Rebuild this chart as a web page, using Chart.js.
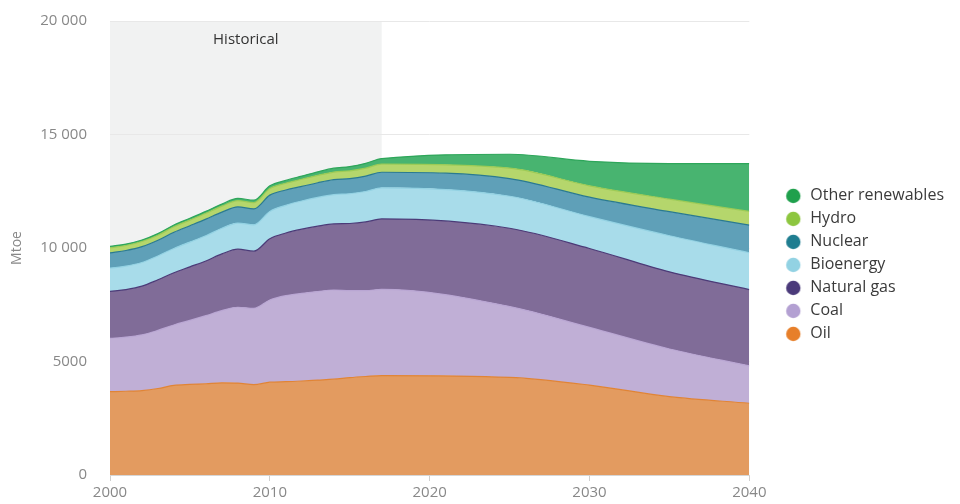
<!DOCTYPE html>
<html><head><meta charset="utf-8">
<script src="https://cdn.jsdelivr.net/npm/chart.js@4.4.1/dist/chart.umd.min.js"></script>
<style>html,body{margin:0;padding:0;background:#fff;}#wrap{width:960px;height:504px;position:relative;}</style>
</head><body><div id="wrap"><canvas id="c"></canvas></div>
<script>
const years = [2000,2001,2002,2003,2004,2005,2006,2007,2008,2009,2010,2011,2012,2013,2014,2015,2016,2017,2025,2030,2035,2040];
const oil     = [3670,3690,3720,3810,3950,3990,4020,4060,4050,3980,4090,4110,4140,4180,4220,4290,4340,4380,4300,3960,3450,3160];
const coal    = [2350,2380,2450,2560,2660,2820,3000,3180,3340,3360,3620,3790,3860,3900,3930,3830,3780,3800,3120,2540,2100,1650];
const gas     = [2070,2100,2150,2230,2300,2360,2410,2500,2560,2520,2700,2760,2830,2880,2910,2960,3030,3100,3450,3480,3400,3360];
const bio     = [1020,1030,1040,1050,1070,1090,1110,1130,1150,1160,1200,1220,1240,1270,1290,1310,1340,1370,1410,1400,1590,1620];
const nuclear = [675,690,700,690,715,720,730,710,712,703,719,674,642,646,661,670,680,688,780,860,1060,1220];
const hydro   = [225,220,225,225,240,250,260,265,275,280,295,300,315,325,335,335,345,353,460,500,550,600];
const other   = [60,62,66,70,75,80,85,90,98,105,115,125,140,155,170,190,215,250,610,1080,1570,2110];
const seriesNames = ['Oil','Coal','Natural gas','Bioenergy','Nuclear','Hydro','Other renewables'];
const historicalRange = [2000, 2017];
const historicalLabel = 'Historical';
const yTicks = [0, 5000, 10000, 15000, 20000];
const xTicks = [2000, 2010, 2020, 2030, 2040];

const fills   = ['#e39b60','#c0afd6','#806c98','#a8dcea','#5fa0b8','#b5d66c','#48b470'];
const borders = ['#e08436','#b9a6d3','#4b3b78','#93d2e3','#2a7a90','#9ccb55','#2ea65a'];
const dots    = ['#e77f2a','#b3a0d2','#4b3a7a','#92d2e3','#1f7d90','#8dc63f','#1fa04c'];

Chart.defaults.font.family = '"Open Sans", sans-serif';

function dotImage(color){
  const c = document.createElement('canvas');
  c.width = 48; c.height = 18;
  const x = c.getContext('2d');
  x.fillStyle = color;
  x.beginPath(); x.arc(38, 9, 7.2, 0, Math.PI*2); x.fill();
  return c;
}
const dotImgs = dots.map(dotImage);

const seriesData = [oil, coal, gas, bio, nuclear, hydro, other];
const datasets = seriesData.map((arr, i) => ({
  label: seriesNames[i],
  data: arr.map((v, k) => ({x: years[k], y: v})),
  backgroundColor: fills[i],
  borderColor: borders[i],
  borderWidth: 1.2,
  fill: i === 0 ? 'origin' : '-1',
  pointRadius: 0,
  cubicInterpolationMode: 'monotone'
}));

const histPlugin = {
  id: 'hist',
  beforeDraw(chart){
    const {ctx, scales:{x, y}} = chart;
    const x0 = x.getPixelForValue(historicalRange[0]);
    const x1 = x.getPixelForValue(historicalRange[1]);
    const yTop = y.getPixelForValue(yTicks[yTicks.length-1]);
    const yBot = y.getPixelForValue(0);
    ctx.save();
    ctx.fillStyle = '#f1f2f2';
    ctx.fillRect(x0, yTop, x1 - x0, yBot - yTop);
    ctx.fillStyle = '#333';
    ctx.font = '15px "Open Sans"';
    ctx.textAlign = 'center';
    ctx.textBaseline = 'middle';
    ctx.fillText(historicalLabel, (x0 + x1)/2, yTop + 19);
    ctx.restore();
  }
};

new Chart(document.getElementById('c'), {
  type: 'line',
  data: { datasets },
  plugins: [histPlugin],
  options: {
    responsive: true,
    maintainAspectRatio: false,
    animation: false,
    layout: { padding: { top: 21, right: 6, bottom: 0, left: 0 } },
    plugins: {
      tooltip: { enabled: false },
      legend: {
        position: 'right',
        reverse: true,
        title: { display: true, text: ' ', font: { size: 4 }, padding: 0 },
        labels: {
          usePointStyle: true,
          pointStyleWidth: 46,
          padding: 7,
          color: '#3a3a3a',
          font: { size: 16 },
          generateLabels(chart){
            const items = Chart.defaults.plugins.legend.labels.generateLabels(chart);
            items.forEach(it => { it.pointStyle = dotImgs[it.datasetIndex]; });
            return items;
          }
        }
      }
    },
    scales: {
      x: {
        type: 'linear',
        min: xTicks[0], max: xTicks[xTicks.length-1],
        afterBuildTicks(s){ s.ticks = xTicks.map(v => ({value: v})); },
        afterFit(s){ s.height = 29; s.paddingLeft = 0; s.paddingRight = 0; },
        ticks: { color: '#888', font: { size: 15 }, padding: 3, maxRotation: 0, callback: v => String(v) },
        grid: { display: true, drawOnChartArea: false, drawTicks: true, tickLength: 6, color: '#cfcfcf' },
        border: { display: true, color: '#d6d6d6' }
      },
      y: {
        stacked: true,
        min: 0, max: 20000,
        afterBuildTicks(s){ s.ticks = yTicks.map(v => ({value: v})); },
        afterFit(s){ s.width = 110; s.paddingTop = 0; s.paddingBottom = 0; },
        ticks: {
          color: '#888', font: { size: 15 }, padding: 23,
          callback: v => v >= 10000 ? (Math.floor(v/1000) + ' ' + String(v % 1000).padStart(3,'0')) : String(v)
        },
        grid: { color: '#e8e8e8', drawTicks: false },
        border: { display: false },
        title: { display: true, text: 'Mtoe', color: '#888', font: { size: 14 }, padding: { top: 9, bottom: 0 } }
      }
    }
  }
});
</script></body></html>
